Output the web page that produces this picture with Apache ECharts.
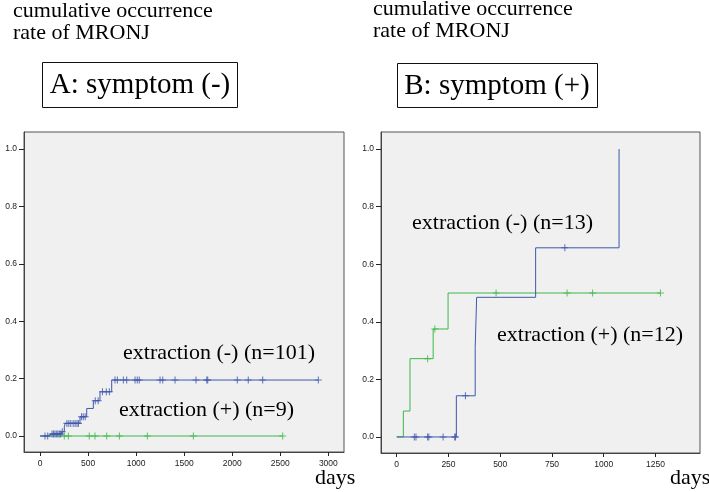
<!DOCTYPE html>
<html>
<head>
<meta charset="utf-8">
<script src="https://cdn.jsdelivr.net/npm/echarts@6/dist/echarts.min.js"></script>
<style>
html,body{margin:0;padding:0;background:#fff;}
#chart{width:709px;height:492px;}
</style>
</head>
<body>
<div id="chart"></div>
<script>
// ---- Data ----
// Panel A: symptom (-)
const aNoExtDays   = [0, 104, 225, 253, 262, 416, 486, 555, 624, 746, 2896];
const aNoExtRates  = [0, 0.007, 0.015, 0.032, 0.044, 0.067, 0.096, 0.123, 0.154, 0.195, 0.195];
const aNoExtCensor = [52, 80, 125, 140, 155, 170, 185, 200, 215, 232, 280, 300, 320, 345, 365, 385, 400, 432, 450, 470, 575, 605, 650, 690, 722, 780, 805, 867, 902, 989, 1012, 1033, 1249, 1277, 1405, 1623, 1735, 1745, 2053, 2167, 2317, 2896];
const aExtDays     = [0, 2525];
const aExtRates    = [0, 0];
const aExtCensor   = [253, 295, 513, 572, 694, 826, 1117, 1596, 2525];
// Panel B: symptom (+)
const bNoExtDays   = [0, 288, 379, 386, 671, 1074];
const bNoExtRates  = [0, 0.143, 0.311, 0.485, 0.657, 1.0];
const bNoExtCensor = [85, 93, 149, 155, 224, 280, 284, 332, 812];
const bExtDays     = [0, 32, 64, 176, 248, 1274];
const bExtRates    = [0, 0.09, 0.272, 0.375, 0.5, 0.5];
const bExtCensor   = [149, 184, 480, 823, 946, 1274];
// Tick labels
const yTicks  = [0, 0.2, 0.4, 0.6, 0.8, 1.0];
const aXTicks = [0, 500, 1000, 1500, 2000, 2500, 3000];
const bXTicks = [0, 250, 500, 750, 1000, 1250];
// Texts
const yTitle = ['cumulative occurrence', 'rate of MRONJ'];
const panelTitles = ['A: symptom (-)', 'B: symptom (+)'];
const seriesLabels = ['extraction (-) (n=101)', 'extraction (+) (n=9)', 'extraction (-) (n=13)', 'extraction (+) (n=12)'];
const xTitle = 'days';

const BLUE = '#3E58AC', GREEN = '#3DB84A';
const PLUS = 'path://M-0.15,-1 L0.15,-1 L0.15,-0.15 L1,-0.15 L1,0.15 L0.15,0.15 L0.15,1 L-0.15,1 L-0.15,0.15 L-1,0.15 L-1,-0.15 L-0.15,-0.15 Z';

function curve(days, rates) { return days.map((d, i) => [d, rates[i]]); }
function censorPts(days, rates, cens) {
  return cens.map(t => {
    let v = rates[0];
    for (let i = 0; i < days.length; i++) if (days[i] <= t) v = rates[i];
    return [t, v];
  });
}

function lineS(idx, days, rates, color) {
  return { type: 'line', xAxisIndex: idx, yAxisIndex: idx, step: 'end', showSymbol: false,
    data: curve(days, rates), lineStyle: { color: color, width: 1 }, itemStyle: { color: color },
    silent: true, z: 3 };
}
function censS(idx, days, rates, cens, color) {
  return { type: 'scatter', xAxisIndex: idx, yAxisIndex: idx, symbol: PLUS, symbolSize: 7,
    data: censorPts(days, rates, cens), itemStyle: { color: color }, silent: true, z: 4 };
}

const tickLabel = { fontFamily: 'Liberation Sans, Arial, sans-serif', fontSize: 8.5, color: '#222' };
function xAx(idx, min, max, ticks) {
  return { type: 'value', gridIndex: idx, min: min, max: max, splitLine: { show: false },
    axisLine: { show: true, onZero: false, lineStyle: { color: '#444', width: 1 } },
    axisTick: { show: true, length: 4, lineStyle: { color: '#222' }, customValues: ticks },
    axisLabel: Object.assign({ margin: 7, customValues: ticks, formatter: v => String(v) }, tickLabel) };
}
function yAx(idx) {
  return { type: 'value', gridIndex: idx, min: -0.0557, max: 1.0592, splitLine: { show: false },
    axisLine: { show: true, onZero: false, lineStyle: { color: '#444', width: 1 } },
    axisTick: { show: true, length: 5, lineStyle: { color: '#222' }, customValues: yTicks },
    axisLabel: Object.assign({ margin: 7, customValues: yTicks, formatter: v => v.toFixed(1) }, tickLabel) };
}

const serif = 'Liberation Serif, Times New Roman, serif';
function txt(x, baseline, s, size, align) {
  return { type: 'text', x: x, y: baseline - size * 0.3, silent: true,
    style: { text: s, font: size + 'px ' + serif, fill: '#000', textAlign: align || 'left', textVerticalAlign: 'middle' } };
}
function box(x1, y1, x2, y2) {
  return { type: 'rect', shape: { x: x1, y: y1, width: x2 - x1, height: y2 - y1 }, silent: true,
    style: { fill: 'none', stroke: '#111', lineWidth: 1 } };
}

const chart = echarts.init(document.getElementById('chart'), null, { renderer: 'canvas' });
chart.setOption({
  animation: false,
  backgroundColor: '#fff',
  grid: [
    { left: 24, top: 132, width: 320, height: 320, show: true, backgroundColor: '#f0f0f0', borderColor: '#555', borderWidth: 1 },
    { left: 381, top: 132, width: 319, height: 321, show: true, backgroundColor: '#f0f0f0', borderColor: '#555', borderWidth: 1 }
  ],
  xAxis: [xAx(0, -166.5, 3163, aXTicks), xAx(1, -76, 1465, bXTicks)],
  yAxis: [yAx(0), yAx(1)],
  series: [
    lineS(0, aExtDays, aExtRates, GREEN),
    censS(0, aExtDays, aExtRates, aExtCensor, GREEN),
    lineS(0, aNoExtDays, aNoExtRates, BLUE),
    censS(0, aNoExtDays, aNoExtRates, aNoExtCensor, BLUE),
    lineS(1, bExtDays, bExtRates, GREEN),
    censS(1, bExtDays, bExtRates, bExtCensor, GREEN),
    lineS(1, bNoExtDays, bNoExtRates, BLUE),
    censS(1, bNoExtDays, bNoExtRates, bNoExtCensor, BLUE)
  ],
  graphic: [
    txt(13, 18, yTitle[0], 22), txt(13, 40, yTitle[1], 22),
    txt(373, 16, yTitle[0], 22), txt(373, 38, yTitle[1], 22),
    box(42.5, 62.5, 237.5, 107.5), txt(140, 94, panelTitles[0], 29, 'center'),
    box(397.5, 63.5, 597.5, 107.5), txt(497, 95, panelTitles[1], 29, 'center'),
    txt(123, 360, seriesLabels[0], 22), txt(119, 417, seriesLabels[1], 22),
    txt(412, 230, seriesLabels[2], 22), txt(497, 342, seriesLabels[3], 22),
    txt(315, 485, xTitle, 22), txt(670, 485, xTitle, 22)
  ]
});
</script>
</body>
</html>
